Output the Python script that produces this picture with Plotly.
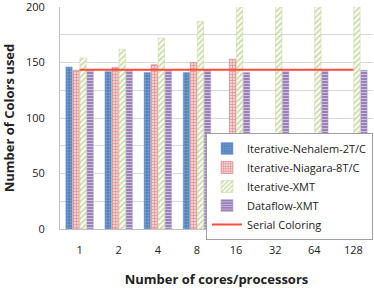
import plotly.graph_objects as go

categories = ["1", "2", "4", "8", "16", "32", "64", "128"]
nehalem = [146, 142, 141, 141, None, None, None, None]
niagara = [143, 145.5, 148, 150, 153, None, None, None]
xmt = [154, 162, 172, 187, 210, 210, 210, 210]
dataflow = [143, 143, 143, 143, 141, 142, 142.5, 143]
serial = [143.5] * 8

font = "Open Sans, Lato, sans-serif"
fig = go.Figure()
fig.add_bar(x=categories, y=nehalem, name="Iterative-Nehalem-2T/C",
            marker=dict(color="#4F81BD", line=dict(width=0.5, color="#7FA3D0"),
                        pattern=dict(shape=".", fgcolor="#A9C4E6", size=3, solidity=0.4)))
fig.add_bar(x=categories, y=niagara, name="Iterative-Niagara-8T/C",
            marker=dict(color="#E9A5A3", line=dict(width=0.5, color="#D07572"),
                        pattern=dict(shape="+", fgcolor="#CC5552", bgcolor="#F3CFCE", size=3, solidity=0.4)))
fig.add_bar(x=categories, y=xmt, name="Iterative-XMT",
            marker=dict(color="#9BBB59", line=dict(width=0.5, color="#C3D69B"),
                        pattern=dict(shape="/", fgcolor="#9BBB59", bgcolor="#FFFFFF", size=4, solidity=0.5)))
fig.add_bar(x=categories, y=dataflow, name="Dataflow-XMT",
            marker=dict(color="#8064A2", line=dict(width=0.5, color="#B3A2C7"),
                        pattern=dict(shape="-", fgcolor="#FFFFFF", bgcolor="#9A80BA", size=3, solidity=0.35)))
fig.add_scatter(x=categories, y=serial, name="Serial Coloring", mode="lines",
                line=dict(color="#FF4B3A", width=2))

fig.update_layout(
    width=374, height=288,
    margin=dict(l=60, r=1, t=7, b=59, autoexpand=False),
    paper_bgcolor="white", plot_bgcolor="white",
    barmode="group", bargap=0.28, bargroupgap=0.1,
    font=dict(family=font, size=11, color="#222"),
    legend=dict(x=1.0, y=(229 - 133) / 222, xanchor="right", yanchor="top",
                bgcolor="white", bordercolor="#A0A0A0", borderwidth=1,
                font=dict(size=11, family=font), tracegroupgap=0,
                itemwidth=30, traceorder="normal"),
    showlegend=True,
)
fig.update_xaxes(title=dict(text="<b>Number of cores/processors</b>", font=dict(size=13), standoff=20),
                 showgrid=False, showline=True, linecolor="#C0C0C0", ticks="",
                 tickfont=dict(size=11), automargin=False, ticklabelstandoff=11)
fig.update_yaxes(title=dict(text="<b>Number of Colors used</b>", font=dict(size=13), standoff=14),
                 range=[0, 200], tickvals=[0, 50, 100, 150, 200], showgrid=True,
                 gridcolor="#D9D9D9", showline=True, linecolor="#C0C0C0",
                 minor=dict(dtick=25, showgrid=True, gridcolor="#D9D9D9"),
                 zeroline=False, tickfont=dict(size=11), automargin=False,
                 ticklabelstandoff=12, ticklabeloverflow="allow")

fig.write_html("out.html", config={"displayModeBar": False},
               post_script="document.body.style.margin='0';document.body.style.overflow='hidden';")
